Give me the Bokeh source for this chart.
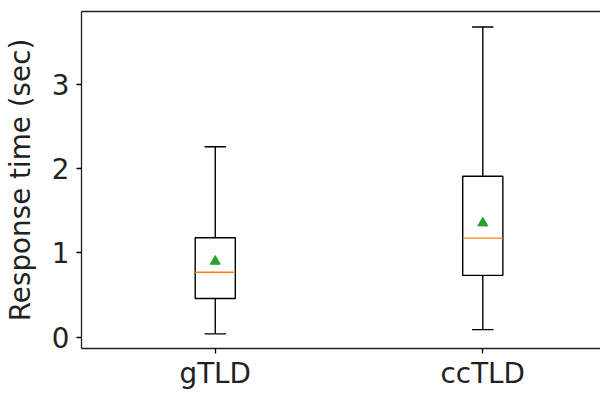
from bokeh.plotting import figure
from bokeh.models import FixedTicker, LinearAxis, Range1d, ColumnDataSource
from bokeh.embed import file_html
from bokeh.resources import INLINE

categories = ["gTLD", "ccTLD"]
positions = [1, 2]
whisker_low = [0.04, 0.09]
q1 = [0.46, 0.733]
median = [0.77, 1.175]
q3 = [1.18, 1.91]
whisker_high = [2.26, 3.68]
mean = [0.90, 1.355]
y_ticks = [0, 1, 2, 3]

box_w = 0.15
cap_w = 0.08

FONT = "DejaVu Sans"
FS = "27.8px"

p = figure(width=600, height=392, output_backend="svg", toolbar_location=None,
           x_range=Range1d(0.5, 2.44), y_range=Range1d(-0.134, 3.864),
           min_border_left=79, min_border_right=0, min_border_top=11, min_border_bottom=40)
p.outline_line_color = None
p.xgrid.visible = False
p.ygrid.visible = False
p.background_fill_color = "white"

src = ColumnDataSource(dict(
    x=positions,
    left=[x - box_w / 2 for x in positions],
    right=[x + box_w / 2 for x in positions],
    cl=[x - cap_w / 2 for x in positions],
    cr=[x + cap_w / 2 for x in positions],
    lo=whisker_low, q1=q1, med=median, q3=q3, hi=whisker_high, mean=mean,
))

lw = 1.4
p.segment(x0="x", y0="q3", x1="x", y1="hi", source=src, line_color="black", line_width=lw)
p.segment(x0="x", y0="q1", x1="x", y1="lo", source=src, line_color="black", line_width=lw)
p.segment(x0="cl", y0="hi", x1="cr", y1="hi", source=src, line_color="black", line_width=lw)
p.segment(x0="cl", y0="lo", x1="cr", y1="lo", source=src, line_color="black", line_width=lw)
p.quad(left="left", right="right", bottom="q1", top="q3", source=src,
       fill_color=None, line_color="black", line_width=lw)
p.segment(x0="left", y0="med", x1="right", y1="med", source=src, line_color="#ff7f0e", line_width=lw)
p.scatter(x="x", y="mean", source=src, marker="triangle", size=10,
          fill_color="#2ca02c", line_color="#2ca02c")

# axes
xa = p.xaxis[0]
xa.ticker = FixedTicker(ticks=positions)
xa.major_label_overrides = {pos: c for pos, c in zip(positions, categories)}
ya = p.yaxis[0]
ya.ticker = FixedTicker(ticks=y_ticks)
ya.axis_label = "Response time (sec)"
for ax in (xa, ya):
    ax.minor_tick_line_color = None
    ax.major_tick_out = 5
    ax.major_tick_in = 0
    ax.axis_line_width = 1.3
    ax.major_tick_line_width = 1.3
    ax.axis_line_color = "#222222"
    ax.major_label_text_font = FONT
    ax.major_label_text_font_size = FS
    ax.major_label_text_color = "#222222"
    ax.axis_label_text_font = FONT
    ax.axis_label_text_font_size = FS
    ax.axis_label_text_font_style = "normal"
    ax.axis_label_text_color = "#222222"
xa.major_label_standoff = 3
ya.major_label_standoff = 7
ya.axis_label_standoff = 12

top = LinearAxis(ticker=FixedTicker(ticks=[]), major_label_text_font_size="0px",
                 major_tick_out=0, major_tick_in=0, minor_tick_line_color=None,
                 axis_line_width=1.3, axis_line_color="#222222", major_label_standoff=0)
p.add_layout(top, "above")

open("out.html", "w").write(file_html(p, INLINE))
